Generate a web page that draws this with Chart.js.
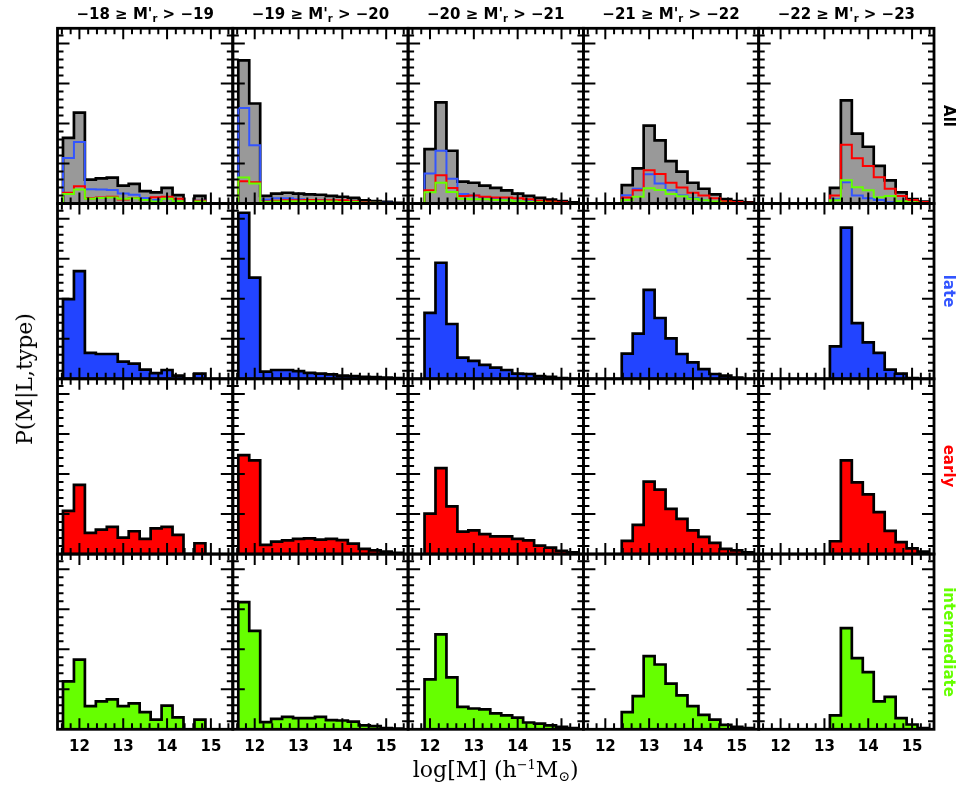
<!DOCTYPE html>
<html>
<head>
<meta charset="utf-8">
<title>P(M|L,type)</title>
<script src="https://cdn.jsdelivr.net/npm/chart.js@4.4.1/dist/chart.umd.min.js"></script>
<style>
  html, body { margin: 0; padding: 0; background: #fff; }
  #figure { position: relative; width: 964px; height: 792px; overflow: hidden; }
  #chartBox { position: absolute; left: 0; top: 0; width: 964px; height: 792px; }
  .colTitle { position: absolute; top: 5px; text-align: center; white-space: nowrap;
              font: bold 15px "DejaVu Sans", sans-serif; line-height: 18px; }
  .colTitle sub { font-size: 10px; line-height: 0; vertical-align: -3px; }
  .rowLabel { position: absolute; white-space: nowrap; font: bold 15px "DejaVu Sans", sans-serif;
              transform: translate(-50%, -50%) rotate(90deg); }
  .axisTitle { position: absolute; white-space: nowrap; font: 22px "DejaVu Serif", serif; line-height: 24px; }
  .axisTitle sup { font-size: 13px; line-height: 0; vertical-align: 8px; }
  .axisTitle sub { font-size: 14px; line-height: 0; vertical-align: -4px; }
</style>
</head>
<body>
<div id="figure">
  <div id="chartBox"><canvas id="massChart"></canvas></div>
</div>
<script>
// bins in log[M], one value per bin, 0 = empty bin
const binCenters = [11.75, 12.0, 12.25, 12.5, 12.75, 13.0, 13.25, 13.5, 13.75, 14.0, 14.25, 14.5, 14.75, 15.0, 15.25];
const binWidth = 0.25;
const magBright = ['−18', '−19', '−20', '−21', '−22'];
const magFaint = ['−19', '−20', '−21', '−22', '−23'];
const rowLabels = ['All', 'late', 'early', 'intermediate'];
const xTickValues = [12, 13, 14, 15];

// top row: all galaxies (grey) and the share of each type
const allTotal = [
  [0.164, 0.227, 0.060, 0.063, 0.065, 0.045, 0.049, 0.031, 0.028, 0.039, 0.021, 0, 0.019, 0, 0],
  [0.358, 0.250, 0.019, 0.025, 0.027, 0.025, 0.023, 0.022, 0.019, 0.017, 0.014, 0.008, 0.006, 0.004, 0.002],
  [0, 0.136, 0.253, 0.132, 0.055, 0.052, 0.045, 0.039, 0.033, 0.025, 0.019, 0.014, 0.010, 0.006, 0.003],
  [0, 0, 0, 0.046, 0.088, 0.195, 0.158, 0.106, 0.080, 0.052, 0.037, 0.023, 0.011, 0.006, 0.003],
  [0, 0, 0, 0, 0, 0, 0.039, 0.258, 0.175, 0.142, 0.094, 0.058, 0.028, 0.011, 0.005]
];
const allLate = [
  [0.114, 0.154, 0.036, 0.035, 0.034, 0.025, 0.022, 0.014, 0.009, 0.013, 0.006, 0, 0.007, 0, 0],
  [0.239, 0.146, 0.010, 0.013, 0.013, 0.011, 0.009, 0.008, 0.006, 0.005, 0.004, 0.003, 0.002, 0.002, 0.001],
  [0, 0.075, 0.132, 0.062, 0.024, 0.020, 0.016, 0.013, 0.010, 0.006, 0.006, 0.003, 0.002, 0.001, 0],
  [0, 0, 0, 0.021, 0.037, 0.073, 0.050, 0.033, 0.020, 0.014, 0.008, 0.004, 0.003, 0.001, 0],
  [0, 0, 0, 0, 0, 0, 0.011, 0.053, 0.020, 0.013, 0.009, 0.003, 0.002, 0, 0]
];
const allEarly = [
  [0.027, 0.043, 0.013, 0.015, 0.017, 0.010, 0.014, 0.009, 0.016, 0.017, 0.012, 0, 0.007, 0, 0],
  [0.056, 0.053, 0.005, 0.007, 0.008, 0.008, 0.009, 0.008, 0.008, 0.008, 0.006, 0.003, 0.002, 0.001, 0.001],
  [0, 0.033, 0.071, 0.039, 0.019, 0.020, 0.017, 0.015, 0.015, 0.013, 0.011, 0.007, 0.005, 0.003, 0.001],
  [0, 0, 0, 0.015, 0.033, 0.083, 0.074, 0.052, 0.040, 0.027, 0.020, 0.013, 0.006, 0.004, 0.002],
  [0, 0, 0, 0, 0, 0, 0.020, 0.147, 0.113, 0.094, 0.066, 0.037, 0.019, 0.009, 0.004]
];
const allInter = [
  [0.024, 0.035, 0.012, 0.014, 0.015, 0.012, 0.013, 0.009, 0.005, 0.012, 0.006, 0, 0.005, 0, 0],
  [0.065, 0.050, 0.004, 0.005, 0.006, 0.006, 0.006, 0.006, 0.005, 0.004, 0.004, 0.002, 0.002, 0.001, 0],
  [0, 0.028, 0.052, 0.029, 0.012, 0.011, 0.011, 0.009, 0.008, 0.006, 0.004, 0.003, 0.002, 0.001, 0.001],
  [0, 0, 0, 0.009, 0.017, 0.038, 0.034, 0.024, 0.018, 0.012, 0.008, 0.005, 0.002, 0.001, 0.001],
  [0, 0, 0, 0, 0, 0, 0.008, 0.058, 0.041, 0.033, 0.016, 0.019, 0.006, 0.003, 0.001]
];

// one row per type
const late = [
  [0.199, 0.269, 0.065, 0.062, 0.062, 0.043, 0.038, 0.023, 0.014, 0.022, 0.008, 0, 0.013, 0, 0],
  [0.415, 0.253, 0.018, 0.022, 0.022, 0.019, 0.015, 0.013, 0.011, 0.008, 0.007, 0.005, 0.004, 0.003, 0.002],
  [0, 0.165, 0.290, 0.137, 0.053, 0.045, 0.035, 0.028, 0.022, 0.013, 0.012, 0.007, 0.005, 0.002, 0],
  [0, 0, 0, 0.063, 0.113, 0.222, 0.152, 0.101, 0.062, 0.041, 0.024, 0.012, 0.008, 0.003, 0],
  [0, 0, 0, 0, 0, 0, 0.081, 0.378, 0.139, 0.091, 0.065, 0.023, 0.013, 0.002, 0]
];
const early = [
  [0.108, 0.173, 0.053, 0.061, 0.068, 0.041, 0.057, 0.038, 0.064, 0.068, 0.048, 0, 0.027, 0, 0],
  [0.247, 0.234, 0.023, 0.031, 0.034, 0.038, 0.039, 0.036, 0.038, 0.035, 0.026, 0.013, 0.009, 0.006, 0.003],
  [0, 0.101, 0.215, 0.119, 0.056, 0.059, 0.050, 0.044, 0.044, 0.038, 0.034, 0.021, 0.016, 0.008, 0.004],
  [0, 0, 0, 0.033, 0.073, 0.181, 0.161, 0.113, 0.088, 0.059, 0.043, 0.028, 0.013, 0.009, 0.004],
  [0, 0, 0, 0, 0, 0, 0.032, 0.234, 0.179, 0.149, 0.105, 0.058, 0.030, 0.014, 0.006]
];
const inter = [
  [0.120, 0.174, 0.058, 0.070, 0.075, 0.058, 0.065, 0.043, 0.024, 0.059, 0.030, 0, 0.024, 0, 0],
  [0.318, 0.246, 0.018, 0.026, 0.031, 0.028, 0.028, 0.031, 0.023, 0.022, 0.019, 0.010, 0.008, 0.003, 0.002],
  [0, 0.125, 0.237, 0.130, 0.056, 0.052, 0.050, 0.040, 0.035, 0.029, 0.017, 0.014, 0.010, 0.006, 0.003],
  [0, 0, 0, 0.043, 0.083, 0.183, 0.162, 0.114, 0.085, 0.058, 0.036, 0.024, 0.011, 0.006, 0.003],
  [0, 0, 0, 0, 0, 0, 0.035, 0.253, 0.178, 0.143, 0.070, 0.081, 0.028, 0.012, 0.003]
];

(() => {
  const xMin = 11.5, xMax = 15.5;
  const yMin = 0, yMax = 0.438;
  const xMinor = 0.2, yMinor = 0.02, yMajor = 0.1;

  const grey = '#999999';
  const typeFills = ['#2244ff', '#ff0000', '#66ff00'];
  const lineColours = ['#3355ff', '#ff0000', '#66ff00'];
  const labelColours = ['#000000', '#3355ff', '#ff0000', '#66ff00'];

  function stepPoints(values) {
    const first = values.findIndex(v => v > 0);
    let last = values.length - 1;
    while (last > first && !(values[last] > 0)) last--;
    const half = binWidth / 2;
    const pts = [{ x: binCenters[first] - half, y: 0 }];
    for (let k = first; k <= last; k++) {
      pts.push({ x: binCenters[k] - half, y: values[k] });
    }
    pts.push({ x: binCenters[last] + half, y: 0 });
    return pts;
  }

  function histogram(values, col, row, fill, line, width, order) {
    return {
      data: stepPoints(values),
      xAxisID: 'x' + col,
      yAxisID: 'y' + row,
      stepped: 'before',
      borderColor: line,
      borderWidth: width,
      backgroundColor: fill || 'rgba(0,0,0,0)',
      fill: fill ? 'origin' : false,
      pointRadius: 0,
      pointHoverRadius: 0,
      tension: 0,
      order
    };
  }

  const datasets = [];
  for (let c = 0; c < 5; c++) {
    datasets.push(histogram(allTotal[c], c, 0, grey, '#000', 2.7, 10));
    datasets.push(histogram(allLate[c], c, 0, null, lineColours[0], 2, 3));
    datasets.push(histogram(allEarly[c], c, 0, null, lineColours[1], 2, 2));
    datasets.push(histogram(allInter[c], c, 0, null, lineColours[2], 2, 1));
    [late, early, inter].forEach((rows, i) => {
      datasets.push(histogram(rows[c], c, i + 1, typeFills[i], '#000', 2.7, 10));
    });
  }

  const scales = {};
  for (let c = 0; c < 5; c++) {
    scales['x' + c] = {
      type: 'linear',
      position: 'bottom',
      stack: 'mass',
      weight: c,
      min: xMin,
      max: xMax,
      grid: { display: false, drawTicks: false },
      border: { display: false },
      ticks: {
        color: '#000',
        font: { family: 'DejaVu Sans', size: 15, weight: 'bold' },
        padding: 9,
        maxRotation: 0,
        autoSkip: false,
        callback: v => String(v)
      },
      afterBuildTicks: s => { s.ticks = xTickValues.map(value => ({ value })); },
      afterFit: s => { s.height = 34; }
    };
  }
  for (let r = 0; r < 4; r++) {
    scales['y' + r] = {
      type: 'linear',
      position: 'left',
      stack: 'prob',
      weight: 4 - r,
      display: false,
      min: yMin,
      max: yMax
    };
  }

  // inward ticks on all four sides and the panel frame
  const panelFrame = {
    id: 'panelFrame',
    afterDatasetsDraw(chart) {
      const ctx = chart.ctx;
      ctx.save();
      ctx.strokeStyle = '#000';
      for (let r = 0; r < 4; r++) {
        for (let c = 0; c < 5; c++) {
          const xs = chart.scales['x' + c];
          const ys = chart.scales['y' + r];
          const left = xs.left, right = xs.right, top = ys.top, bottom = ys.bottom;
          ctx.lineWidth = 2;
          ctx.beginPath();
          for (let i = Math.ceil(xMin / xMinor + 1e-6); i * xMinor < xMax - 1e-6; i++) {
            const v = Math.round(i * xMinor * 100) / 100;
            const len = Math.abs(v - Math.round(v)) < 1e-6 ? 11 : 6;
            const px = xs.getPixelForValue(v);
            ctx.moveTo(px, bottom); ctx.lineTo(px, bottom - len);
            ctx.moveTo(px, top); ctx.lineTo(px, top + len);
          }
          for (let i = 1; i * yMinor < yMax - 1e-6; i++) {
            const v = i * yMinor;
            const len = i % Math.round(yMajor / yMinor) === 0 ? 12 : 6;
            const py = ys.getPixelForValue(v);
            ctx.moveTo(left, py); ctx.lineTo(left + len, py);
            ctx.moveTo(right, py); ctx.lineTo(right - len, py);
          }
          ctx.stroke();
          ctx.lineWidth = 2.8;
          ctx.strokeRect(left, top, right - left, bottom - top);
        }
      }
      ctx.restore();
    }
  };

  const chart = new Chart(document.getElementById('massChart').getContext('2d'), {
    type: 'line',
    data: { datasets },
    options: {
      responsive: true,
      maintainAspectRatio: false,
      animation: false,
      events: [],
      layout: { padding: { left: 57.5, top: 28.3, right: 30, bottom: 28.7 } },
      scales,
      plugins: {
        legend: { display: false },
        tooltip: { enabled: false },
        title: { display: false }
      }
    },
    plugins: [panelFrame]
  });

  const figure = document.getElementById('figure');
  function addText(cls, html, styles) {
    const el = document.createElement('div');
    el.className = cls;
    el.innerHTML = html;
    Object.assign(el.style, styles);
    figure.appendChild(el);
    return el;
  }

  for (let c = 0; c < 5; c++) {
    const xs = chart.scales['x' + c];
    addText('colTitle', `${magBright[c]} ≥ M'<sub>r</sub> &gt; ${magFaint[c]}`, {
      left: xs.left + 'px',
      width: (xs.right - xs.left) + 'px'
    });
  }
  const lastX = chart.scales.x4;
  for (let r = 0; r < 4; r++) {
    const ys = chart.scales['y' + r];
    addText('rowLabel', rowLabels[r], {
      left: (lastX.right + 15) + 'px',
      top: ((ys.top + ys.bottom) / 2) + 'px',
      color: labelColours[r]
    });
  }

  const topY = chart.scales.y0.top, bottomY = chart.scales.y3.bottom;
  addText('axisTitle', 'P(M|L,type)', {
    left: '25px',
    top: ((topY + bottomY) / 2) + 'px',
    transform: 'translate(-50%, -50%) rotate(-90deg)'
  });
  addText('axisTitle', 'log[M] (h<sup>−1</sup>M<sub>⊙</sub>)', {
    left: ((chart.scales.x0.left + lastX.right) / 2) + 'px',
    top: '758px',
    transform: 'translateX(-50%)'
  });
})();
</script>
</body>
</html>
